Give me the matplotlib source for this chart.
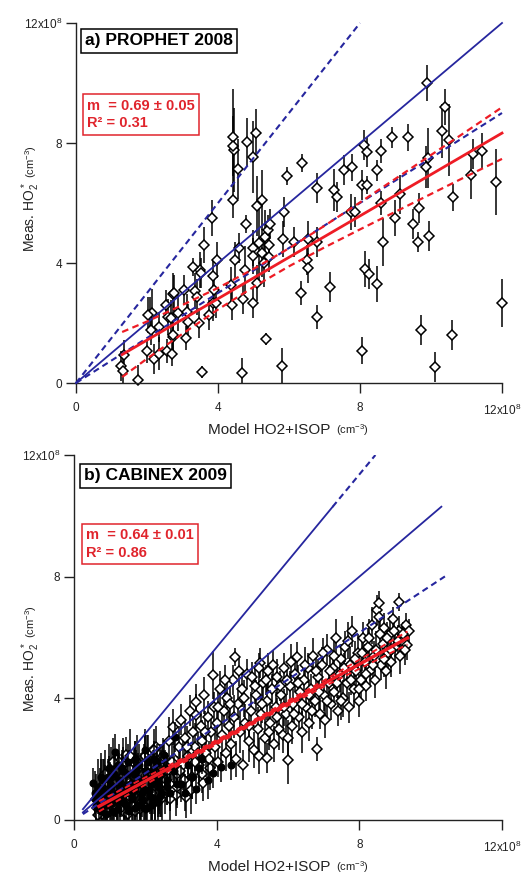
import matplotlib
matplotlib.use('Agg')
import matplotlib.pyplot as plt
import numpy as np

plt.rcParams['font.family'] = ['Liberation Sans', 'DejaVu Sans']
plt.rcParams['mathtext.fontset'] = 'custom'
plt.rcParams['mathtext.rm'] = 'Liberation Sans'
plt.rcParams['mathtext.it'] = 'Liberation Sans:italic'
plt.rcParams['mathtext.bf'] = 'Liberation Sans:bold'

# ---------------- data: panel a (PROPHET 2008) ----------------
a_x = [9.9, 10.4, 10.3, 10.5, 8.9, 9.35, 8.1, 8.6, 8.2, 7.55, 7.77, 8.48, 7.27, 7.35, 8.06, 8.2,
       9.92, 9.86, 11.18, 11.44, 11.13, 11.83, 10.62, 9.13, 8.6, 7.75, 7.86, 8.99, 9.66, 9.49,
       8.65, 9.63, 9.94, 8.14, 8.25, 8.48, 7.15, 12.0, 1.35, 1.27, 1.32, 1.75, 2.0, 2.2, 2.34,
       2.56, 2.7, 2.73, 3.1, 3.55, 4.68, 5.35, 5.8, 8.06, 9.72, 10.1, 10.6, 2.11, 2.08, 2.14,
       2.34, 2.54, 2.59, 2.68, 2.73, 2.87, 3.04, 3.13, 3.15, 3.35, 3.4, 3.46, 3.75, 3.86, 3.89,
       3.49, 4.45, 4.99, 4.56, 4.42, 3.83, 4.79, 5.1, 5.24, 5.94, 6.37, 5.86, 3.61, 3.3, 3.52,
       3.97, 3.86, 4.48, 4.59, 4.99, 4.99, 4.76, 5.24, 5.3, 5.16, 5.32, 5.41, 5.46, 5.44, 5.44,
       5.1, 4.7, 4.99, 4.37, 4.39, 3.94, 2.76, 2.03, 2.73, 5.83, 6.14, 6.54, 6.79, 6.79, 6.5,
       6.54, 6.34, 6.79, 4.42, 4.42, 4.82, 5.07]
a_y = [10.0, 9.2, 8.4, 8.1, 8.2, 8.2, 7.95, 7.75, 7.7, 7.1, 7.2, 7.1, 6.45, 6.2, 6.6, 6.6,
       7.5, 7.2, 7.65, 7.75, 6.95, 6.7, 6.2, 6.3, 6.0, 5.7, 5.7, 5.5, 5.83, 5.3,
       4.7, 4.7, 4.9, 3.8, 3.65, 3.3, 3.2, 2.67, 0.95, 0.57, 0.4, 0.1, 1.07, 0.8, 0.97,
       1.07, 0.97, 1.55, 1.5, 0.37, 0.33, 1.47, 0.57, 1.07, 1.77, 0.53, 1.6, 1.77, 2.27, 2.33,
       1.87, 2.6, 2.2, 2.17, 2.97, 2.33, 3.1, 2.37, 2.03, 3.07, 2.87, 2.0, 2.27, 2.67, 3.1,
       3.77, 7.77, 7.53, 7.13, 6.1, 5.5, 5.3, 5.9, 6.1, 6.9, 7.33, 5.7, 4.6, 3.87, 3.67,
       4.1, 3.57, 4.1, 4.5, 4.5, 4.23, 3.77, 4.33, 4.0, 4.67, 4.87, 5.1, 5.3, 4.6, 4.2,
       3.33, 2.8, 2.67, 3.27, 2.6, 2.67, 3.0, 2.27, 1.6, 4.8, 4.7, 4.8, 6.5, 4.7, 4.1,
       3.83, 3.0, 2.2, 8.2, 7.9, 8.03, 8.33]
a_err = [0.6, 0.6, 0.9, 1.2, 0.35, 0.45, 0.5, 0.4, 0.5, 0.5, 0.45, 0.35, 0.7, 0.5, 0.5, 0.3,
         1.0, 0.7, 0.5, 0.6, 0.8, 1.1, 0.45, 0.65, 0.4, 0.6, 0.5, 0.6, 0.5, 0.5,
         0.8, 0.35, 0.5, 0.6, 0.5, 0.6, 0.5, 0.8, 0.5, 0.5, 0.4, 0.5, 0.4, 0.5, 0.55,
         0.4, 0.4, 0.5, 0.4, 0.2, 0.5, 0.2, 0.6, 0.45, 0.5, 0.5, 0.5, 0.5, 0.6, 0.8,
         0.5, 0.5, 0.6, 0.6, 0.7, 0.6, 0.5, 0.6, 0.6, 0.6, 0.6, 0.5, 0.5, 0.6, 0.6,
         0.6, 1.4, 1.2, 1.0, 0.6, 0.6, 0.3, 1.0, 1.0, 0.3, 0.3, 0.5, 0.6, 0.3, 0.5,
         0.6, 0.5, 0.6, 0.5, 0.6, 0.6, 0.8, 0.8, 0.8, 1.4, 0.9, 0.5, 0.5, 0.5, 0.5,
         0.6, 0.5, 0.5, 0.6, 0.5, 0.5, 0.6, 0.6, 0.5, 0.6, 0.5, 0.6, 0.5, 0.5, 0.5,
         0.5, 0.4, 0.4, 1.6, 1.0, 0.8, 0.8]

a_fit_slope, a_fit_icpt, a_fit_x = 0.69, 0.05, [1.3, 12.0]
a_band_x = [1.3, 2, 3, 4, 5, 6, 7, 8, 9, 10, 11, 12]
a_band_hi = [1.70, 2.05, 2.60, 3.17, 3.80, 4.49, 5.24, 6.02, 6.81, 7.60, 8.39, 9.19]
a_band_lo = [0.20, 0.81, 1.64, 2.45, 3.20, 3.89, 4.52, 5.12, 5.71, 6.30, 6.89, 7.47]
a_ref_slopes = [1.0, 1.5, 0.75]
a_ref_xend = [12.0, 8.0, 12.0]

# ---------------- data: panel b (CABINEX 2009) ----------------
b_open_x = [0.65, 0.72, 0.78, 0.85, 0.9, 0.95, 1.0, 1.05, 1.1, 1.15, 1.2, 1.25, 1.3, 1.35, 1.4,
            1.45, 1.5, 1.55, 1.6, 1.65, 1.7, 1.75, 1.8, 1.85, 1.9, 1.95, 2.0, 2.05, 2.1, 2.15,
            2.2, 2.25, 2.3, 2.35, 2.4, 2.45, 2.5, 1.46,
            2.55, 2.6, 2.65, 2.7, 2.78, 2.8, 2.85, 2.9, 2.95, 3.0, 3.05, 3.1, 3.15, 3.2, 3.25,
            3.3, 3.35, 3.4, 3.43, 3.43, 3.5, 3.55, 3.6, 3.62, 3.65, 3.7, 3.75, 3.8, 3.85, 3.9,
            3.92, 3.95, 4.0, 4.05, 4.1, 4.15, 4.2, 4.25, 4.3, 4.35, 4.4, 4.45, 4.5, 4.52,
            4.55, 4.6, 4.65, 4.7, 4.75, 4.8, 4.85, 4.9, 4.95, 5.0, 5.05, 5.1, 5.15, 5.2, 5.22,
            5.25, 5.3, 5.35, 5.4, 5.42, 5.45, 5.5, 5.55, 5.6, 5.65, 5.7, 5.75, 5.8, 5.85, 5.9,
            5.95, 6.0, 6.0, 6.05, 6.1, 6.15, 6.2, 6.25, 6.3, 6.35, 6.4, 6.45, 6.5,
            6.55, 6.6, 6.65, 6.7, 6.75, 6.8, 6.85, 6.9, 6.95, 7.0, 7.05, 7.1, 7.15, 7.2, 7.25,
            7.3, 7.35, 7.4, 7.45, 7.5, 7.55, 7.6, 7.65, 7.7, 7.75, 7.8, 7.85, 7.9, 7.95, 8.0,
            8.05, 8.1, 8.15, 8.2, 8.25, 8.3, 8.35, 8.4, 8.45, 8.5, 8.54, 8.54, 8.6, 8.65, 8.7,
            8.75, 8.8, 8.85, 8.9, 8.95, 9.0, 9.1, 9.1, 9.15, 9.2, 9.3, 9.35, 9.4,
            0.62, 0.68, 0.75, 0.82, 0.88, 0.92, 0.98, 1.03, 1.08, 1.12, 1.18, 1.22, 1.28, 1.33,
            1.38, 1.42, 1.48, 1.52, 1.58, 1.63, 1.68, 1.72, 1.78, 1.83, 1.88, 1.93, 1.98, 2.03,
            2.08, 2.13, 2.18, 2.23, 2.28, 2.33, 2.38, 2.43, 2.48, 2.58, 2.68, 2.75, 2.88, 2.98,
            3.08, 3.18, 3.28, 3.38, 3.48, 3.58, 3.68, 3.78,
            4.05, 4.22, 4.38, 4.62, 4.78, 4.92, 5.08, 5.18, 5.28, 5.38, 5.48, 5.58, 5.68, 5.78,
            5.88, 5.98, 6.08, 6.18, 6.28, 6.38, 6.48, 6.58, 6.68, 6.78, 6.88, 6.98, 7.08, 7.18,
            7.28, 7.38, 7.48, 7.58, 7.68, 7.78, 7.88, 7.98, 8.08, 8.18, 8.28, 8.38, 8.48, 8.58,
            8.68, 8.78, 8.88, 8.98, 9.08, 9.22, 9.28]
b_open_y = [0.4, 0.9, 0.2, 1.3, 0.6, 1.0, 0.3, 1.6, 0.8, 1.2, 0.45, 1.9, 0.9, 1.4, 0.25,
            1.1, 0.7, 1.7, 1.3, 0.5, 2.0, 0.9, 1.5, 0.35, 1.2, 1.8, 0.8, 2.2, 1.4, 0.6,
            1.7, 1.1, 2.4, 0.9, 1.9, 1.4, 2.1, 2.14,
            0.9, 1.6, 2.6, 1.2, 3.06, 2.0, 0.82, 1.5, 2.4, 3.3, 1.8, 2.7, 0.76, 2.1, 3.6,
            1.4, 2.9, 2.4, 3.88, 3.45, 1.8, 3.1, 2.6, 1.22, 4.1, 2.2, 3.4, 1.7, 2.9, 4.77,
            3.7, 2.4, 3.2, 1.9, 4.3, 2.8, 3.6, 2.2, 4.0, 3.1, 2.5, 4.6, 3.4, 5.37,
            2.0, 3.8, 2.9, 4.3, 1.81, 3.2, 4.8, 2.6, 3.6, 4.7, 2.3, 4.1, 3.0, 2.1, 5.16,
            3.5, 4.5, 2.7, 3.9, 2.04, 4.9, 3.2, 4.3, 2.5, 3.7, 4.7, 3.0, 4.1, 2.8, 5.0,
            3.5, 1.97, 2.7, 4.4, 3.1, 3.8, 4.8, 5.36, 3.4, 4.2, 2.9, 4.6, 3.7,
            5.0, 3.2, 4.3, 5.4, 3.9, 2.34, 4.7, 3.5, 5.1, 4.1, 3.3, 5.6, 4.5, 3.8, 5.0,
            4.2, 6.0, 3.6, 4.8, 5.3, 4.0, 5.7, 4.5, 3.7, 5.1, 6.2, 4.3, 4.9, 5.5, 3.9,
            4.6, 6.0, 5.2, 4.4, 5.7, 4.9, 6.4, 5.4, 4.6, 6.9, 7.14, 6.68, 5.1, 5.8, 6.3,
            4.9, 5.5, 6.1, 5.2, 6.6, 5.7, 7.17, 6.2, 5.4, 5.9, 6.4, 5.76, 6.2,
            0.7, 0.15, 1.1, 0.4, 1.5, 0.25, 1.2, 0.55, 1.9, 0.3, 1.0, 1.6, 0.35, 1.1,
            1.8, 0.6, 1.3, 0.2, 2.1, 0.9, 1.4, 0.3, 1.9, 1.0, 0.55, 1.5, 2.1, 0.4,
            1.2, 1.8, 0.9, 2.3, 0.6, 1.5, 1.1, 0.7, 1.7, 1.3, 0.7, 1.9, 1.1, 1.6,
            1.3, 2.4, 1.0, 1.9, 2.2, 1.5, 2.9, 2.0,
            3.7, 4.6, 3.8, 4.9, 4.0, 3.1, 4.4, 5.0, 3.8, 4.6, 2.9, 5.1, 3.4, 4.4,
            3.7, 4.6, 5.2, 3.5, 4.5, 3.8, 5.1, 4.1, 3.6, 4.9, 4.2, 5.5, 3.9, 4.9,
            5.4, 4.5, 3.9, 5.0, 5.9, 4.6, 5.3, 4.3, 5.5, 4.8, 6.0, 5.1, 5.6, 6.1,
            5.3, 6.0, 5.6, 6.2, 5.9, 6.1, 5.6]
b_open_err = [0.7, 0.8, 0.6, 0.7, 0.9, 0.6, 0.7, 0.8, 0.6, 0.9, 0.7, 0.6, 0.8, 0.7, 0.6,
              0.9, 0.7, 0.6, 0.8, 0.7, 0.6, 0.8, 0.7, 0.9, 0.6, 0.7, 0.8, 0.6, 0.7, 0.8,
              0.6, 0.9, 0.7, 0.8, 0.6, 0.7, 0.6, 0.6,
              0.7, 0.6, 0.8, 0.7, 0.6, 0.8, 0.7, 0.6, 0.7, 0.5, 0.8, 0.6, 0.7, 0.6, 0.5,
              0.7, 0.6, 0.8, 0.6, 0.7, 0.6, 0.5, 0.7, 0.6, 0.6, 0.8, 0.5, 0.7, 0.6, 0.8,
              0.5, 0.7, 0.6, 0.5, 0.6, 0.7, 0.5, 0.6, 0.7, 0.5, 0.6, 0.5, 0.7, 0.3,
              0.6, 0.5, 0.7, 0.6, 0.5, 0.6, 0.5, 0.7, 0.6, 0.5, 0.6, 0.5, 0.7, 0.6, 0.5,
              0.6, 0.5, 0.7, 0.6, 0.5, 0.6, 0.7, 0.5, 0.6, 0.5, 0.6, 0.7, 0.5, 0.6, 0.5,
              0.6, 0.8, 0.6, 0.5, 0.6, 0.5, 0.6, 0.5, 0.6, 0.5, 0.7, 0.5, 0.6,
              0.5, 0.6, 0.5, 0.6, 0.5, 0.4, 0.6, 0.5, 0.6, 0.5, 0.6, 0.5, 0.6, 0.5, 0.6,
              0.5, 0.6, 0.5, 0.6, 0.5, 0.6, 0.5, 0.6, 0.5, 0.6, 0.5, 0.6, 0.5, 0.6, 0.5,
              0.6, 0.5, 0.6, 0.5, 0.6, 0.5, 0.6, 0.5, 0.6, 0.5, 0.4, 0.4, 0.5, 0.6, 0.5,
              0.6, 0.5, 0.6, 0.5, 0.4, 0.5, 0.3, 0.5, 0.6, 0.5, 0.4, 0.5, 0.4,
              0.8, 0.7, 0.9, 0.7, 0.8, 0.6, 0.9, 0.7, 0.8, 0.7, 0.9, 0.6, 0.8, 0.7,
              0.9, 0.7, 0.8, 0.6, 0.9, 0.7, 0.8, 0.7, 0.9, 0.6, 0.8, 0.7, 0.9, 0.7,
              0.8, 0.6, 0.9, 0.7, 0.8, 0.7, 0.9, 0.6, 0.8, 0.7, 0.8, 0.6, 0.7, 0.8,
              0.6, 0.7, 0.8, 0.6, 0.7, 0.6, 0.7, 0.6,
              0.6, 0.5, 0.6, 0.5, 0.6, 0.5, 0.6, 0.5, 0.6, 0.5, 0.6, 0.5, 0.6, 0.5,
              0.6, 0.5, 0.6, 0.5, 0.6, 0.5, 0.6, 0.5, 0.6, 0.5, 0.6, 0.5, 0.6, 0.5,
              0.6, 0.5, 0.6, 0.5, 0.6, 0.5, 0.6, 0.5, 0.6, 0.5, 0.6, 0.5, 0.6, 0.5,
              0.6, 0.5, 0.6, 0.5, 0.5, 0.4, 0.5]
b_fill_x = [0.53, 0.6, 0.7, 0.8, 0.85, 0.95, 1.0, 1.1, 1.15, 1.24, 1.3, 1.4, 1.5, 1.6, 1.7,
            1.8, 1.9, 2.0, 2.1, 2.2, 2.3, 2.4, 2.52, 2.6, 2.8, 3.0, 3.2, 3.43, 3.6, 3.9,
            4.13, 4.41, 2.83, 1.7, 2.0,
            0.58, 0.75, 0.9, 1.05, 1.2, 1.35, 1.45, 1.55, 1.65, 1.75, 1.85, 1.95, 2.05, 2.15,
            2.25, 2.35, 2.45, 2.7, 2.9, 3.1, 3.3, 3.5, 3.75,
            0.62, 0.66, 0.72, 0.76, 0.82, 0.86, 0.92, 0.97, 1.02, 1.07, 1.12, 1.17, 1.22, 1.27,
            1.32, 1.37, 1.42, 1.47, 1.52, 1.57, 1.62, 1.67, 1.72, 1.77, 1.82, 1.87, 1.92, 1.97,
            2.02, 2.07, 2.12, 2.17, 2.22, 2.27, 2.32, 2.37, 2.42, 2.47, 2.55, 2.62]
b_fill_y = [1.22, 0.7, 0.4, 1.0, 0.5, 1.4, 0.8, 0.3, 2.24, 1.81, 1.1, 0.6, 1.5, 0.9, 0.4,
            1.2, 0.7, 1.6, 1.0, 0.5, 1.3, 0.8, 2.14, 1.1, 1.6, 1.2, 1.8, 1.02, 2.0, 1.55,
            1.74, 1.81, 2.73, 2.0, 2.3,
            0.9, 1.4, 0.2, 1.1, 0.6, 1.7, 0.9, 0.3, 1.2, 1.6, 0.5, 1.0, 0.4, 1.3,
            2.0, 0.6, 1.5, 0.9, 1.2, 0.9, 1.4, 1.7, 1.3,
            0.5, 1.1, 0.8, 0.3, 1.3, 0.9, 0.5, 1.7, 1.2, 0.6, 1.5, 0.9, 0.35, 1.3,
            0.7, 1.6, 1.1, 0.5, 1.9, 1.2, 0.7, 1.5, 1.0, 0.45, 1.8, 1.3, 0.9, 0.4,
            1.4, 1.9, 0.8, 1.2, 1.6, 0.7, 1.9, 1.1, 1.5, 0.9, 1.7, 1.3]
b_fill_err = [0.5, 0.6, 0.7, 0.6, 0.8, 0.6, 0.7, 0.6, 0.6, 0.5, 0.7, 0.6, 0.6, 0.7, 0.6,
              0.7, 0.6, 0.6, 0.7, 0.6, 0.6, 0.7, 0.5, 0.6, 0.5, 0.6, 0.5, 0.5, 0.5, 0.5,
              0.5, 0.5, 0.5, 0.6, 0.6,
              0.7, 0.8, 0.6, 0.7, 0.8, 0.6, 0.7, 0.8, 0.6, 0.7, 0.8, 0.6, 0.7, 0.8,
              0.6, 0.7, 0.8, 0.6, 0.7, 0.6, 0.7, 0.6, 0.6,
              0.7, 0.9, 0.6, 0.8, 0.7, 0.9, 0.6, 0.8, 0.7, 0.9, 0.6, 0.8, 0.7, 0.9,
              0.6, 0.8, 0.7, 0.9, 0.6, 0.8, 0.7, 0.9, 0.6, 0.8, 0.7, 0.9, 0.6, 0.8,
              0.7, 0.9, 0.6, 0.8, 0.7, 0.9, 0.6, 0.8, 0.7, 0.9, 0.6, 0.8]

b_fit_slope, b_fit_icpt, b_fit_x = 0.64, 0.0, [0.7, 9.35]
b_band_x = [0.7, 3, 5, 7, 9.35]
b_band_hi = [0.62, 2.00, 3.26, 4.58, 6.20]
b_band_lo = [0.28, 1.84, 3.14, 4.38, 5.77]
b_ref_solid = [(1.0, 0.25, 10.3), (1.42, 0.25, 7.25)]
b_ref_dashed = [(1.42, 7.25, 8.45), (0.77, 0.25, 10.4)]

tick_vals = [0, 4, 8, 12]
tick_labels = ['0', '4', '8', r'12x10$^8$']

BLUE = '#26269e'
RED = '#ee1c25'
REDTXT = '#e0242c'
W, H = 523, 875

fig = plt.figure(figsize=(W / 100, H / 100), dpi=100)
axA = fig.add_axes([76 / W, 1 - 383 / H, 426 / W, 360 / H])
axB = fig.add_axes([74 / W, 1 - 820 / H, 428 / W, 365 / H])


def style(ax):
    ax.set_xlim(0, 12)
    ax.set_ylim(0, 12)
    for s in ['top', 'right']:
        ax.spines[s].set_visible(False)
    for s in ['left', 'bottom']:
        ax.spines[s].set_linewidth(1.0)
        ax.spines[s].set_color('#222222')
    ax.set_xticks(tick_vals)
    ax.set_xticklabels(tick_labels)
    ax.set_yticks(tick_vals)
    ax.set_yticklabels(tick_labels)
    ax.tick_params(direction='out', length=7, width=1.0, labelsize=8.5,
                   color='#222222', labelcolor='#222222')
    ax.tick_params(axis='x', pad=7)
    ax.tick_params(axis='y', pad=3)


for ax in (axA, axB):
    style(ax)

# ---- panel a ----
ax = axA
ay = np.array(a_y)
ae = np.array(a_err)
ax.errorbar(a_x, a_y, yerr=[np.minimum(ae, ay), ae], fmt='D', ms=5.2, mfc='white',
            mec='black', mew=1.1, ecolor='black', elinewidth=1.1, capsize=0,
            zorder=2, clip_on=False)
for s, xe in zip(a_ref_slopes, a_ref_xend):
    xs = np.array([0, xe])
    ls = '-' if s == 1.0 else (0, (3, 2))
    ax.plot(xs, s * xs, color=BLUE, lw=1.3 if s == 1.0 else 1.5, ls=ls, zorder=3, clip_on=False)
fx = np.array(a_fit_x)
ax.plot(fx, a_fit_slope * fx + a_fit_icpt, color=RED, lw=2.0, zorder=4, clip_on=False)
ax.plot(a_band_x, a_band_hi, color=RED, lw=1.6, ls=(0, (3, 2)), zorder=4, clip_on=False)
ax.plot(a_band_x, a_band_lo, color=RED, lw=1.6, ls=(0, (3, 2)), zorder=4, clip_on=False)

ax.text(0.25, 11.4, 'a) PROPHET 2008', fontsize=12.5, fontweight='bold', ha='left',
        va='center', zorder=6,
        bbox=dict(boxstyle='square,pad=0.25', fc='white', ec='black', lw=1.1))
ax.text(0.31, 8.95, 'm  = 0.69 \u00b1 0.05\nR\u00b2 = 0.31', fontsize=10.5, fontweight='bold',
        color=REDTXT, ha='left', va='center', linespacing=1.35, zorder=6,
        bbox=dict(boxstyle='square,pad=0.3', fc='white', ec=REDTXT, lw=1.1))

# ---- panel b ----
ax = axB
ax.errorbar(b_open_x, b_open_y, yerr=b_open_err, fmt='D', ms=4.6, mfc='white', mec='black',
            mew=1.1, ecolor='black', elinewidth=1.1, capsize=0, zorder=2)
ax.errorbar(b_fill_x, b_fill_y, yerr=b_fill_err, fmt='o', ms=4.8, mfc='black', mec='black',
            mew=1.0, ecolor='black', elinewidth=1.1, capsize=0, zorder=2.5)
for s, x0, x1 in b_ref_solid:
    xs = np.array([x0, x1])
    ax.plot(xs, s * xs, color=BLUE, lw=1.3, zorder=3)
for s, x0, x1 in b_ref_dashed:
    xs = np.array([x0, x1])
    ax.plot(xs, s * xs, color=BLUE, lw=1.5, ls=(0, (3, 2)), zorder=3)
fx = np.array(b_fit_x)
ax.plot(fx, b_fit_slope * fx + b_fit_icpt, color=RED, lw=2.4, zorder=4)
ax.plot(b_band_x, b_band_hi, color=RED, lw=1.4, ls=(0, (3, 2)), zorder=4)
ax.plot(b_band_x, b_band_lo, color=RED, lw=1.4, ls=(0, (3, 2)), zorder=4)

ax.text(0.28, 11.31, 'b) CABINEX 2009', fontsize=12.5, fontweight='bold', ha='left',
        va='center', zorder=6,
        bbox=dict(boxstyle='square,pad=0.25', fc='white', ec='black', lw=1.1))
ax.text(0.34, 9.07, 'm  = 0.64 \u00b1 0.01\nR\u00b2 = 0.86', fontsize=10.5, fontweight='bold',
        color=REDTXT, ha='left', va='center', linespacing=1.35, zorder=6,
        bbox=dict(boxstyle='square,pad=0.3', fc='white', ec=REDTXT, lw=1.1))


# ---- axis labels ----
def xlabel(ypx):
    fig.text(334 / W, 1 - ypx / H, 'Model HO2+ISOP ', fontsize=11, ha='right',
             va='baseline', color='#222222')
    fig.text(336 / W, 1 - ypx / H, r'(cm$^{-3}$)', fontsize=8, ha='left', va='baseline',
             color='#222222')


def ylabel(ybot_px):
    fig.text(35 / W, 1 - ybot_px / H, r'Meas. HO$_2^*$ ', fontsize=10, rotation=90,
             rotation_mode='anchor', ha='left', va='baseline', color='#222222')
    fig.text(35 / W, 1 - (ybot_px - 74) / H, r'(cm$^{-3}$)', fontsize=8, rotation=90,
             rotation_mode='anchor', ha='left', va='baseline', color='#222222')


xlabel(434)
xlabel(871)
ylabel(252)
ylabel(712)

fig.savefig('out.png', dpi=100)
